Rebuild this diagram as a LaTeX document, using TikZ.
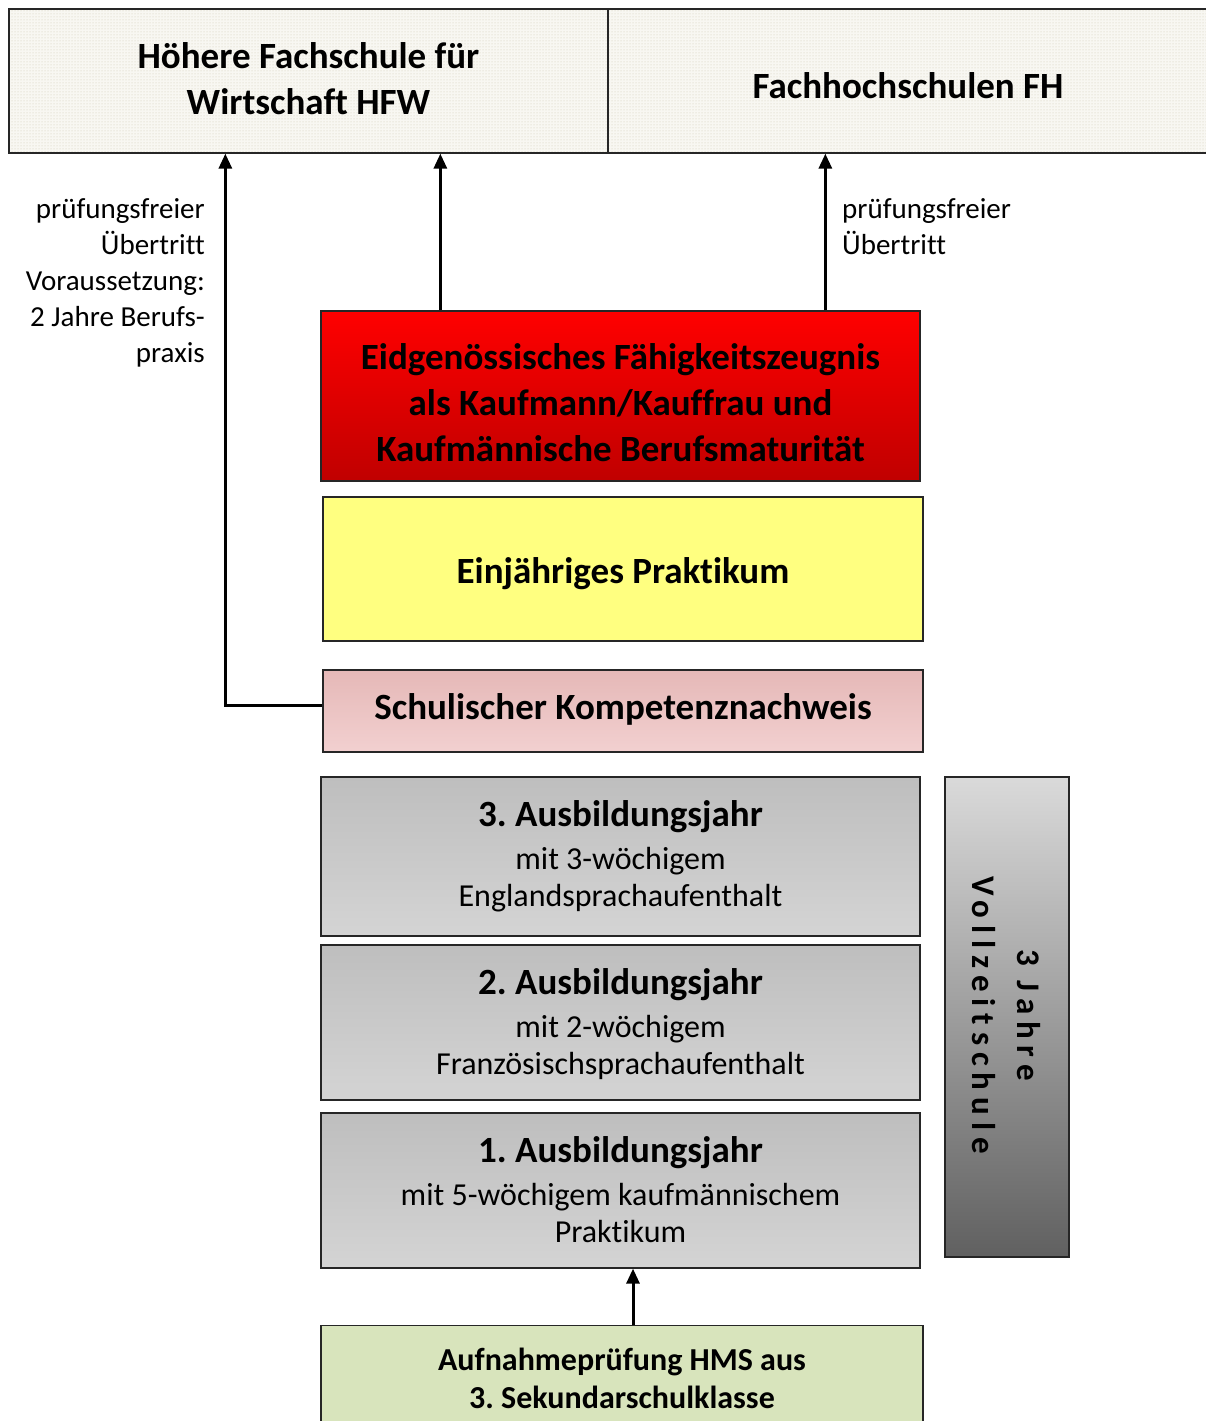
\documentclass[tikz,border=0pt]{standalone}
\usepackage{fontspec}
\setmainfont{Carlito}[Ligatures=NoCommon]
\usetikzlibrary{patterns,arrows.meta}
\frenchspacing
\definecolor{dotbg}{RGB}{248,247,242}
\definecolor{dotfg}{RGB}{205,200,178}
\definecolor{redtop}{RGB}{255,0,0}
\definecolor{redbot}{RGB}{192,0,0}
\definecolor{yel}{RGB}{255,255,128}
\definecolor{pinktop}{RGB}{229,184,183}
\definecolor{pinkbot}{RGB}{242,208,208}
\definecolor{graytop}{RGB}{190,190,190}
\definecolor{graybot}{RGB}{212,212,212}
\definecolor{vtop}{RGB}{218,218,218}
\definecolor{vbot}{RGB}{96,96,96}
\definecolor{grn}{RGB}{216,228,188}
\tikzset{
  box/.style={draw=black!85, line width=1.3pt, inner sep=0pt},
  dotted box/.style={box, preaction={fill=dotbg}, pattern=dots, pattern color=dotfg},
  txt/.style={inner sep=0pt, align=center, anchor=base},
  big/.style={txt, font=\fontsize{37}{46}\selectfont\bfseries},
  subt/.style={txt, font=\fontsize{32}{37}\selectfont},
  lbl/.style={inner sep=0pt, font=\fontsize{29}{36}\selectfont},
  arr/.style={line width=3pt, -{Triangle[length=15pt,width=13pt]}},
}
\begin{document}
\begin{tikzpicture}[x=1pt,y=-1pt]
\useasboundingbox (0,0) rectangle (1206,1421);
\fill[white] (0,0) rectangle (1206,1421);
% top boxes (base anchor of a multi-line node = baseline of its last line)
\node[dotted box, minimum width=599pt, minimum height=144pt] (hfw) at (308.5,81) {};
\node[big] (hfwt) at (308.5,114) {Höhere Fachschule für\\Wirtschaft HFW};
\node[dotted box, minimum width=600pt, minimum height=144pt] (fh) at (908,81) {};
\node[big] (fht) at (908,99) {Fachhochschulen FH};
% red
\node[box, minimum width=599pt, minimum height=170pt, top color=redtop, bottom color=redbot] (efz) at (620.5,396) {};
\node[big] (efzt) at (620.5,461) {Eidgenössisches Fähigkeitszeugnis\\als Kaufmann/Kauffrau und\\Kaufmännische Berufsmaturität};
% yellow
\node[box, minimum width=600pt, minimum height=144pt, fill=yel] (prak) at (623,569) {};
\node[big] (prakt) at (623,583) {Einjähriges Praktikum};
% pink
\node[box, minimum width=600pt, minimum height=82pt, top color=pinktop, bottom color=pinkbot] (skn) at (623,711) {};
\node[big] (sknt) at (623,719) {Schulischer Kompetenznachweis};
% years
\node[box, minimum width=599pt, minimum height=159pt, top color=graytop, bottom color=graybot] (j3) at (620.5,856.5) {};
\node[big] (j3t) at (620.5,826) {3. Ausbildungsjahr};
\node[subt] (j3s) at (620.5,906) {mit 3-wöchigem\\Englandsprachaufenthalt};
\node[box, minimum width=599pt, minimum height=155pt, top color=graytop, bottom color=graybot] (j2) at (620.5,1022.5) {};
\node[big] (j2t) at (620.5,994) {2. Ausbildungsjahr};
\node[subt] (j2s) at (620.5,1074) {mit 2-wöchigem\\Französischsprachaufenthalt};
\node[box, minimum width=599pt, minimum height=155pt, top color=graytop, bottom color=graybot] (j1) at (620.5,1190.5) {};
\node[big] (j1t) at (620.5,1162) {1. Ausbildungsjahr};
\node[subt] (j1s) at (620.5,1242) {mit 5-wöchigem kaufmännischem\\Praktikum};
% vertical
\node[box, minimum width=124pt, minimum height=480pt, top color=vtop, bottom color=vbot] (vz) at (1007,1017) {};
\node[rotate=-90, align=center, inner sep=0pt, font=\fontsize{33}{45}\selectfont\bfseries\addfontfeature{LetterSpace=21}] (vzt) at (1006,1015) {3 Jahre\\Vollzeitschule};
% green
\node[box, minimum width=602pt, minimum height=110pt, fill=grn, anchor=north] (aufn) at (622,1325) {};
\node[txt, font=\fontsize{32}{38}\selectfont\bfseries] (aufnt) at (622,1408) {Aufnahmeprüfung HMS aus\\3. Sekundarschulklasse};
% labels
\node[lbl, align=right, anchor=base east] (l1) at (205,362) {prüfungsfreier\\Übertritt\\Voraussetzung:\\2 Jahre Berufs-\\praxis};
\node[lbl, align=left, anchor=base west] (l2) at (842,254) {prüfungsfreier\\Übertritt};
% arrows
\draw[arr] ([yshift=6pt]skn.west) -| ([xshift=217pt]hfw.south west);
\draw[arr] ([xshift=120pt]efz.north west) -- ([xshift=120pt]efz.north west |- hfw.south);
\draw[arr] ([xshift=505pt]efz.north west) -- ([xshift=505pt]efz.north west |- fh.south);
\draw[arr] ([xshift=11pt]aufn.north) -- ([xshift=11pt]aufn.north |- j1.south);
\end{tikzpicture}
\end{document}
